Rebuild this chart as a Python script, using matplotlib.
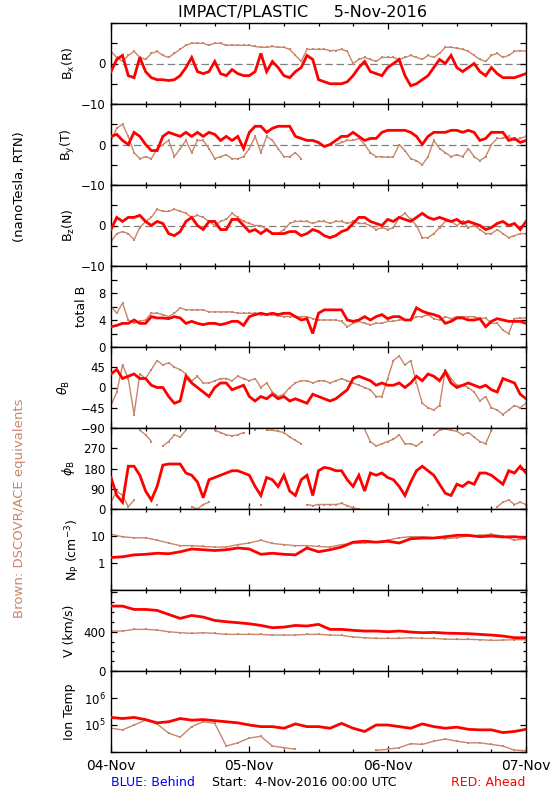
import numpy as np
import matplotlib
matplotlib.use("Agg")
import matplotlib.pyplot as plt
from matplotlib.ticker import FixedLocator, NullLocator, MultipleLocator

nan = np.nan
RED = "#ff0000"
BROWN = "#c8866a"

# ---------------- data (hours since 04-Nov-2016 00:00 UTC) ----------------
hours_1h = np.arange(0, 73, 1)
hours_2h = np.arange(0, 73, 2)

bx_red = [-2, 1, 2, -3, -3.5, 1.5, -2, -3.5, -4, -4, -4.2, -4, -3, -1, 1.5, -2, -2.5, -2, 0.5, -2.5,
          -3, -1.5, -2.5, -3, -3, -2, 2.5, -2, 0.5, -1, -3, -3.5, -2, -1, 2, 1, -4, -4.5, -5, -5,
          -5, -4.5, -3, -1, 0.5, -2, -2.5, -3, -1, 0, 1, -3, -5.5, -5, -4, -3, -1, 1, 0, 2,
          -1, -2, -1, 0, -2, -3, -1, -2.5, -3.5, -3.5, -3.5, -3, -2.5]
bx_brown = [3, 1.5, 0.5, 2, 3, 1.5, 1, 2.5, 3, 2, 1.5, 2.5, 3.5, 4.5, 5, 5, 5, 4.5, 5, 5,
            4.5, 4.5, 4.5, 4.5, 4.5, 4.2, 4, 4, 4.2, 4, 4, 3.5, 2, 0.5, 3.5, 3.5, 3.5, 3.5, 3.2, 3.2,
            3.5, 3, 0, 1, 1.5, 1, 0.5, 1.5, 1.5, 1.5, 1, 1.5, 2, 1.5, 1, 2, 1.5, 2.5, 4, 4,
            3.8, 3.5, 3, 2, 1, 0.5, 2, 2.5, 1.5, 2, 3, 3.2, 3]

by_red = [2, 2.5, 1, 0, 3, 2, 0, -1.5, -1.5, 2, 3, 2.5, 2, 3, 2, 3, 2, 3, 2.5, 1,
          2, 1, 2, -1, 3, 4.5, 4.5, 3, 4, 4.5, 4.5, 4.5, 2, 1.5, 1, 1, 0.5, -0.5, 0, 1,
          2, 2, 3, 2, 1, 1.5, 1.5, 3, 3.5, 3.5, 3.5, 3.5, 3, 2, 0, 2, 3, 3, 3, 3.5,
          3.5, 3, 3.5, 3, 1, 1.5, 3, 3, 3, 1, 1.5, 0.5, 1]
by_brown = [1, 4, 5, 2, -2, -3.5, -3, -3.5, -1, 0, 1, -3, -1, 1, -2, 1, 1, -1, -3.5, -3,
            -2.5, -3.5, -3.5, -3, -1, 2, -2, 2, 1, -1, -3, -3, -2, -3.5, nan, nan, nan, nan, nan, 0,
            0.5, 1, 1, 1.5, 0, -2, -3, -3, -3.2, -3, 0, -1.5, -3.5, -4, -5, -3, 1, -1, -2, -3,
            -2.5, -3, -1, -3, -4, -3, 0, 1.5, 1.5, 2, 1, 1.5, 2]

bz_red = [-1, 2, 1, 2, 2, 2.5, 1, 0, 1, 0.5, -2, -2.5, -1.5, 1, 2, 0, -1, 1, 1, -1,
          -1, 1.5, 1.5, 0, -1.5, -1, -2, -1, -2, -2, -2, -1.5, -1.5, -2.5, -2, -1, -1.5, -2.5, -3, -2.5,
          -1.5, -1, 0.5, 2, 2, 1, 0.5, 0, 1.5, 1, 2, 1.5, 1, 2, 3, 2, 1.5, 2, 1.5, 1,
          1.5, 0.5, 1, 0.5, 0, -1, -0.5, 0.5, 1, 0, 0.5, -1, 1]
bz_brown = [-4, -2, -1.5, -2, -3.5, -0.5, 1, 2, 4, 3.5, 3.5, 4, 3.5, 3, 2, 2.5, 2, 1, 0, 1,
            1.5, 3, 2, 1, 0.5, 0, 0, -1, -2, -2, -1, 0.5, 1, 1, 1, 0.5, 1, 1, 0.5, 1,
            1, 0.5, 1, 0.5, 0.5, 0, -1, -0.5, -1, -0.5, 2, 3, 1.5, 0, -3, -3, -2, -0.5, 1, 1,
            0, 1, -0.5, 0, -1, -2, -2, -1, -2, -3, -2.5, -2, -2]

btot_red = [3, 3.2, 3.5, 3.5, 4, 3.5, 3.5, 4.5, 4.3, 4.3, 4.2, 4.5, 4.3, 3.5, 3.8, 3.5, 3.3, 3.5, 3.5, 3.3,
            3.5, 3.8, 3.8, 3.2, 4.5, 4.8, 5, 4.8, 5, 4.8, 5, 5, 4.5, 4, 4.2, 2, 5, 5.5, 5.5, 5.5,
            5.5, 4, 3.8, 4, 4.5, 4, 4.5, 4.8, 4.2, 4.5, 4.5, 4, 4, 5.8, 5.3, 5, 4.8, 4.5, 3.5, 3.8,
            4.3, 4.3, 4, 4, 4.2, 3, 3.8, 4.2, 4, 3.8, 3.8, 3.8, 3.5]
btot_brown = [6, 5, 6.5, 4, 3.5, 3.8, 4, 5, 5, 4.8, 4.5, 5, 5.8, 5.5, 5.5, 5.5, 5.5, 5.2, 5.2, 5.2,
              5.2, 5.2, 5, 5, 5, 5, 4.8, 4.8, 4.8, 4.6, 4.5, 4.5, 4.5, 4.5, 4.5, 4.2, 4, 4, 4, 4,
              3.8, 3, 3.5, 3.8, 3.5, 3.3, 3.5, 3.5, 3.8, 3.8, 4, 4, 4, 4.5, 4.5, 4.8, 4.2, 4, 4.5, 4.2,
              4.5, 4.5, 4.5, 4.5, 4.2, 4.3, 3.5, 3.5, 2.5, 2, 4.2, 4.3, 4.3]

theta_red = [30, 40, 20, 25, 30, 20, 20, 5, 0, 0, -20, -35, -30, 25, 10, 0, -10, -20, 0, 10,
             10, -5, 0, 5, -20, -30, -20, -25, -15, -25, -20, -30, -25, -30, -35, -15, -20, -25, -30, -25,
             -15, -5, 20, 25, 20, 15, 5, 10, 5, 5, 10, 0, 10, 25, 15, 30, 25, 15, 35, 10,
             0, 5, 10, 5, 0, 5, -5, -10, 20, 15, 10, -15, -25]
theta_brown = [-40, -10, 50, 20, -60, 30, 20, 40, 60, 50, 55, 45, 40, 30, 15, 25, 10, 10, 15, 20,
               20, 15, 25, 20, 15, 20, 0, 10, -10, -20, -15, 0, 10, 15, 15, 10, 15, 15, 10, 15,
               20, 15, 10, 5, 0, -5, -20, -20, 20, 60, 70, 50, 60, 10, -35, -45, -50, -40, 40, 20,
               5, 5, 0, -10, -30, -20, -45, -50, -60, -50, -40, -45, -35]

phi_red = [140, 60, 30, 190, 190, 150, 80, 40, 100, 195, 200, 200, 200, 160, 150, 120, 50, 130, 140, 150,
           160, 170, 170, 160, 150, 100, 60, 140, 130, 100, 150, 80, 60, 130, 150, 60, 170, 185, 180, 170,
           170, 130, 100, 150, 80, 160, 150, 160, 140, 130, 100, 60, 120, 170, 190, 170, 150, 110, 70, 60,
           110, 100, 120, 110, 160, 160, 150, 130, 110, 170, 160, 190, 160]
phi_brown = [30, 80, 60, 10, 40, 350, 330, 300, 20, 280, 300, 330, 320, 350, 10, 0, 20, 30, 350, 340,
             330, 325, 330, 340, 10, 350, 20, 350, 350, 345, 340, 320, 305, 290, 20, 15, 20, 20, 20, 20,
             25, 15, 5, 0, 355, 300, 280, 290, 300, 310, 330, 290, 290, 280, 300, 20, 330, 350, 355, 350,
             345, 330, 340, 320, 300, 290, 350, 10, 30, 40, 20, 30, 20]

np_red = [1.6, 1.7, 2.0, 2.1, 2.3, 2.2, 2.6, 3.3, 3.1, 2.9, 3.1, 3.6, 3.3, 2.1, 2.3, 2.1, 2.0, 3.6, 2.6,
          3.1, 3.9, 5.9, 6.4, 5.9, 6.4, 5.5, 7.9, 8.4, 8.4, 9.4, 10.6, 10.6, 9.4, 10, 9.2, 9.4, 8.6]
np_brown = [11.6, 9.4, 8.6, 8.6, 7.0, 5.5, 4.4, 4.4, 4.1, 3.9, 3.9, 4.8, 5.5, 7.0, 5.3, 4.8, 4.4, 4.4, 4.1,
            3.9, 4.8, 5.3, 5.5, 5.9, 7.0, 8.6, 9.4, 9.4, 8.6, 7.9, 8.6, 10, 10.6, 11.6, 10, 7.0, 7.9]

v_red = [661, 661, 627, 627, 617, 576, 536, 566, 549, 515, 502, 492, 481, 464, 441, 447, 464, 458, 475,
         424, 424, 414, 407, 407, 400, 407, 397, 390, 393, 386, 383, 380, 373, 366, 356, 339, 339]
v_brown = [407, 407, 424, 424, 417, 400, 390, 383, 390, 383, 373, 373, 373, 373, 366, 366, 366, 373, 373,
           366, 363, 346, 339, 332, 332, 332, 339, 332, 332, 325, 322, 322, 319, 312, 315, 319, 319]

logT_red = [5.28, 5.24, 5.28, 5.20, 5.08, 5.12, 5.24, 5.18, 5.20, 5.16, 5.12, 5.08, 5.00, 4.94, 4.94, 4.88,
            5.04, 4.94, 4.94, 4.88, 5.06, 4.88, 4.76, 5.00, 5.00, 4.94, 4.88, 5.04, 4.94, 4.88, 4.92, 4.84,
            4.82, 4.82, 4.72, 4.76, 4.84]
logT_brown = [4.88, 4.82, 5.00, 5.18, 5.04, 4.70, 4.55, 4.94, 5.12, 5.06, 4.22, 4.34, 4.52, 4.58, 4.22, 4.16,
              4.10, nan, nan, nan, nan, nan, nan, 4.06, 4.10, 4.16, 4.31, 4.28, 4.40, 4.48, 4.40, 4.34,
              4.34, 4.28, 4.22, 4.07, 4.05]

day_ticks = [0, 24, 48, 72]
day_labels = ["04-Nov", "05-Nov", "06-Nov", "07-Nov"]

# ---------------- figure ----------------
plt.rcParams["font.family"] = ["DejaVu Sans"]
fig = plt.figure(figsize=(5.5, 8.0), dpi=100)

W, H = 550.0, 800.0
left_px, right_px = 111, 526
top0, ph = 23, 81

panels = [
    dict(red=bx_red, brown=bx_brown, t=hours_1h, ylim=(-10, 10), ticks=[-10, -5, 0, 5, 10],
         labels=["\u221210", "", "0", "", ""], ylabel=r"B$_\mathrm{x}$(R)", lx=77, zero=True),
    dict(red=by_red, brown=by_brown, t=hours_1h, ylim=(-10, 10), ticks=[-10, -5, 0, 5, 10],
         labels=["\u221210", "", "0", "", ""], ylabel=r"B$_\mathrm{y}$(T)", lx=77, zero=True),
    dict(red=bz_red, brown=bz_brown, t=hours_1h, ylim=(-10, 10), ticks=[-10, -5, 0, 5, 10],
         labels=["\u221210", "", "0", "", ""], ylabel=r"B$_\mathrm{z}$(N)", lx=77, zero=True),
    dict(red=btot_red, brown=btot_brown, t=hours_1h, ylim=(0, 12), ticks=[0, 2, 4, 6, 8, 10, 12],
         labels=["0", "", "4", "", "8", "", ""], ylabel="total B", lx=88),
    dict(red=theta_red, brown=theta_brown, t=hours_1h, ylim=(-90, 90), ticks=[-90, -45, 0, 45, 90],
         labels=["\u221290", "\u221245", "0", "45", ""], ylabel=r"$\theta_\mathrm{B}$", lx=72),
    dict(red=phi_red, brown=phi_brown, t=hours_1h, ylim=(0, 360), ticks=[0, 90, 180, 270, 360],
         labels=["0", "90", "180", "270", ""], ylabel=r"$\phi_\mathrm{B}$", lx=77, wrap=True),
    dict(red=np_red, brown=np_brown, t=hours_2h, ylim=(0.1, 100), ticks=[0.1, 1, 10, 100],
         labels=["", "1", "10", ""], ylabel=r"N$_\mathrm{P}$ (cm$^{-3}$)", lx=82, log=True),
    dict(red=v_red, brown=v_brown, t=hours_2h, ylim=(0, 825), ticks=[0, 400, 800],
         labels=["0", "400", ""], ylabel="V (km/s)", lx=76, minor=100),
    dict(red=10 ** np.array(logT_red), brown=10 ** np.array(logT_brown), t=hours_2h, ylim=(1e4, 1e7),
         ticks=[1e4, 1e5, 1e6, 1e7], labels=["", r"10$^5$", r"10$^6$", ""], ylabel="Ion Temp", lx=76, log=True),
]


def break_wraps(t, v):
    """Insert gaps where an angle wraps across 0/360 so no line crosses the panel."""
    tt, vv = [], []
    for k in range(len(v)):
        if k > 0 and abs(v[k] - v[k - 1]) > 180:
            tt.append(np.nan)
            vv.append(np.nan)
        tt.append(t[k])
        vv.append(v[k])
    return np.array(tt), np.array(vv)


for i, p in enumerate(panels):
    top = top0 + ph * i
    ax = fig.add_axes([left_px / W, 1 - (top + ph) / H, (right_px - left_px) / W, ph / H])
    t = np.asarray(p["t"], dtype=float)
    rv = np.asarray(p["red"], dtype=float)
    bv = np.asarray(p["brown"], dtype=float)
    if p.get("wrap"):
        tb, bvv = break_wraps(t, bv)
        tr, rvv = break_wraps(t, rv)
    else:
        tb, bvv, tr, rvv = t, bv, t, rv
    if p.get("zero"):
        ax.axhline(0, color="#808080", lw=0.9, dashes=(6, 3), zorder=1)
    ax.plot(tb, bvv, color=BROWN, lw=1.0, marker="s", ms=1.8, mew=0, zorder=2)
    ax.plot(tr, rvv, color=RED, lw=2.0, solid_joinstyle="miter", zorder=3)
    if p.get("log"):
        ax.set_yscale("log")
    ax.set_ylim(*p["ylim"])
    ax.set_xlim(0, 72)
    ax.yaxis.set_major_locator(FixedLocator(p["ticks"]))
    ax.set_yticklabels(p["labels"])
    if p.get("minor"):
        ax.yaxis.set_minor_locator(MultipleLocator(p["minor"]))
    else:
        ax.yaxis.set_minor_locator(NullLocator())
    ax.xaxis.set_major_locator(FixedLocator(day_ticks))
    ax.xaxis.set_minor_locator(MultipleLocator(6))
    ax.tick_params(axis="both", which="both", direction="in", top=True, right=True,
                   width=0.9, colors="black")
    ax.tick_params(axis="both", which="major", length=4)
    ax.tick_params(axis="both", which="minor", length=2.5)
    ax.tick_params(axis="y", labelsize=8.5, pad=4)
    if i < len(panels) - 1:
        ax.set_xticklabels([])
    else:
        ax.set_xticklabels(day_labels)
        ax.tick_params(axis="x", labelsize=10, pad=5)
    for s in ax.spines.values():
        s.set_linewidth(1.0)
    ax.set_ylabel(p["ylabel"], fontsize=9)
    ax.yaxis.set_label_coords((p["lx"] - left_px) / (right_px - left_px), 0.5)

fig.text(302 / W, 1 - 12 / H, "IMPACT/PLASTIC     5-Nov-2016", ha="center", va="center", fontsize=11.5)
fig.text(20 / W, 1 - 187 / H, "(nanoTesla, RTN)", rotation=90, ha="center", va="center", fontsize=9.5)
fig.text(20 / W, 1 - 508 / H, "Brown: DSCOVR/ACE equivalents", rotation=90, ha="center", va="center",
         fontsize=9.5, color=BROWN)
fig.text(111 / W, 1 - 783 / H, "BLUE: Behind", ha="left", va="center", fontsize=9, color="#0000ff")
fig.text(212 / W, 1 - 783 / H, "Start:  4-Nov-2016 00:00 UTC", ha="left", va="center", fontsize=9)
fig.text(525 / W, 1 - 783 / H, "RED: Ahead", ha="right", va="center", fontsize=9, color=RED)

fig.savefig("out.png", dpi=100)
